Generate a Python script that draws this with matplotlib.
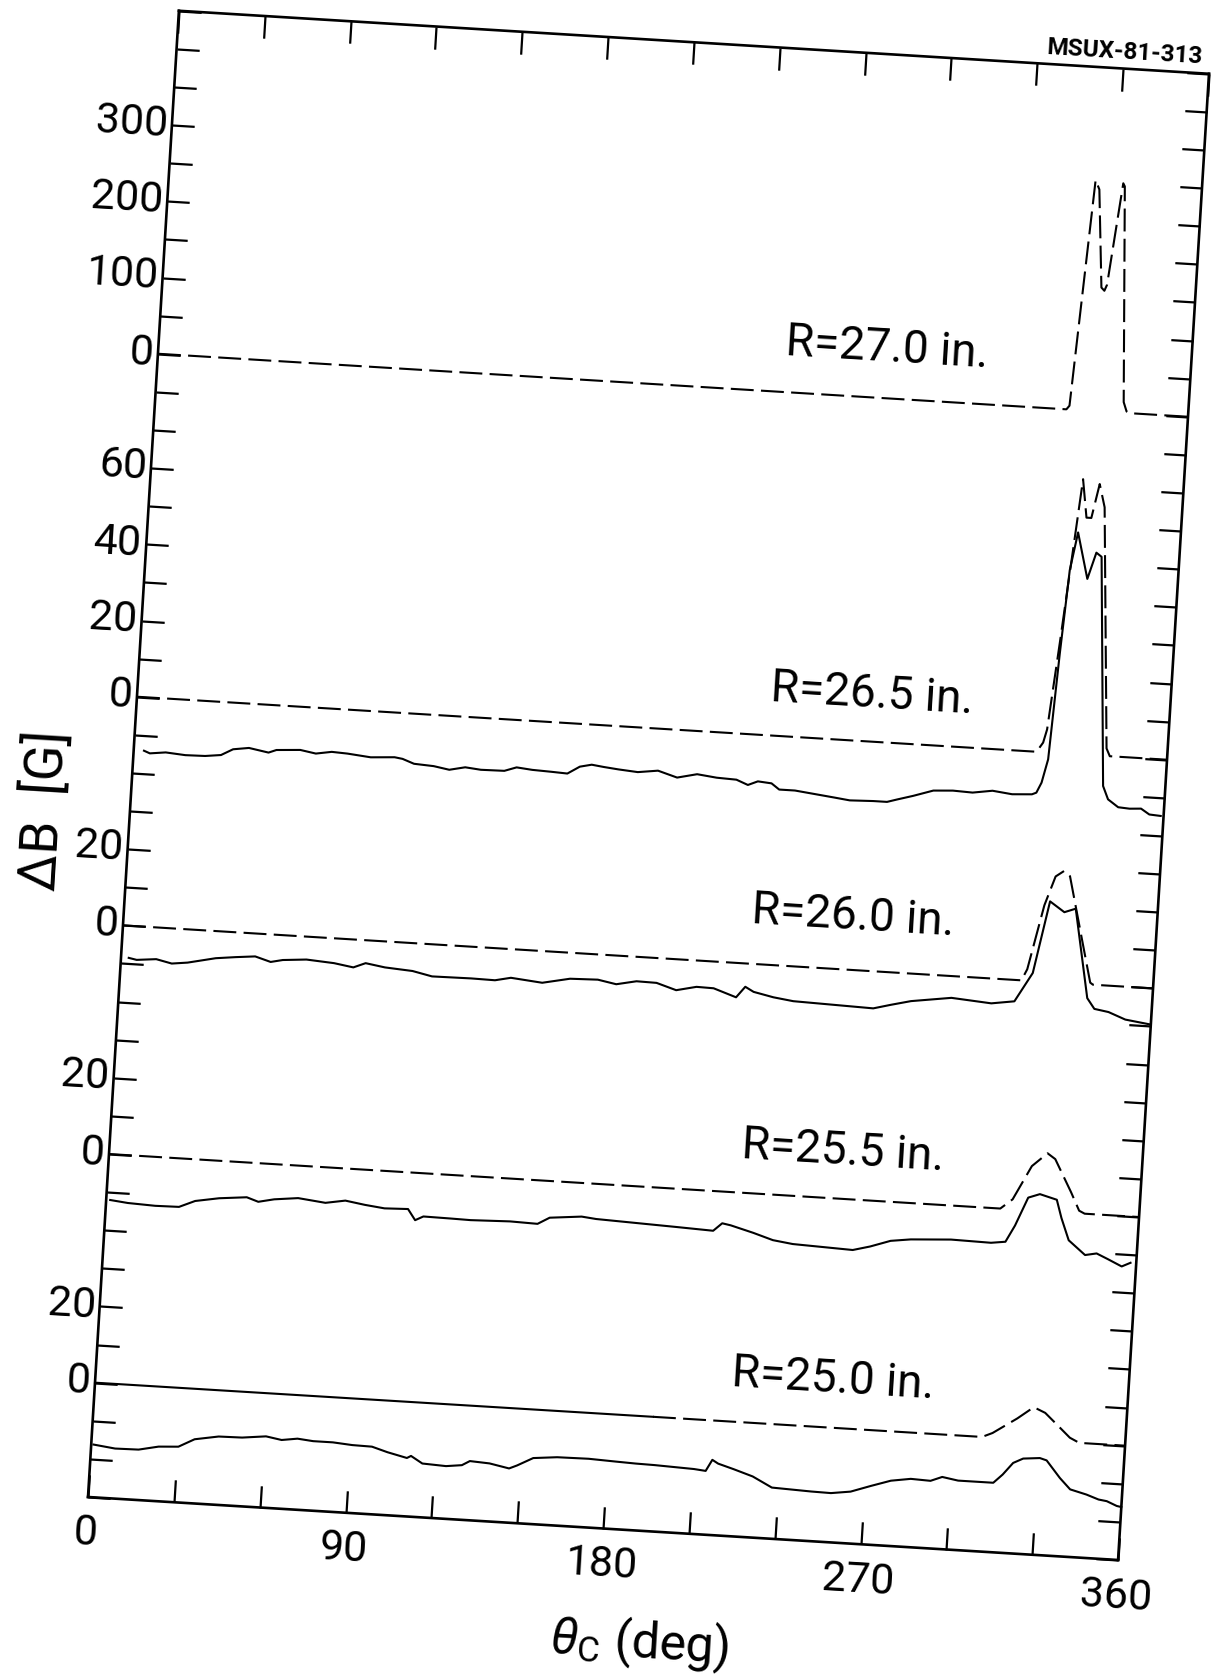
import matplotlib
matplotlib.use("Agg")
import matplotlib.pyplot as plt
import numpy as np
from matplotlib.transforms import Affine2D
import mpl_toolkits.axisartist.floating_axes as floating_axes
from mpl_toolkits.axisartist.grid_finder import FixedLocator, DictFormatter

plt.rcParams['font.family'] = ['Roboto', 'DejaVu Sans']
plt.rcParams['mathtext.fontset'] = 'custom'
plt.rcParams['mathtext.rm'] = 'Roboto'
plt.rcParams['mathtext.it'] = 'Roboto:italic'

# ---- data: theta_c in degrees, delta B in gauss ----
# R = 27.0 in. (calculated only)
theta_270_calc = [0, 317.5, 318.5, 322.8, 324.3, 327.1, 328.2, 329.0, 332.5, 333.1, 337.3, 338.5, 339.5, 360]
dB_270_calc = [0, 0, 5, 302, 290, 162, 158, 166, 300, 296, 14, 2, 0, 0]

# R = 26.5 in.
theta_265_calc = [0, 314.4, 316.5, 317.6, 320.2, 323.2, 324.8, 326.8, 328.5, 330.7, 332.9, 338.7, 340.0, 360]
dB_265_calc = [0, 0, 2.5, 6, 29, 57, 72, 62, 62, 71, 65, 2, 0, 0]
theta_265_meas = [3.6, 5.7, 11.2, 18.1, 25, 30.5, 34.6, 40.1, 47, 49.7, 58, 63.5, 69, 74.5, 82.7,
                  91, 93.8, 97.9, 104.8, 110.3, 115.8, 121.3, 129.5, 133.7, 139.2, 146, 151.5,
                  155.7, 159.8, 164, 169.2, 176, 183, 189.8, 196.7, 203.6, 210.5, 214.6, 218,
                  222.8, 225.6, 231.1, 238, 244.9, 250.4, 258.6, 263.4, 266.9, 272.4, 279.3,
                  286.1, 293, 299.9, 306.8, 313.7, 315.2, 316.8, 318.6, 320.4, 322.1, 324.2,
                  328.4, 331.0, 332.9, 338.3, 340.3, 344, 348, 352, 355, 359]
dB_265_meas = [-14.0, -14.6, -14.1, -14.5, -14.4, -13.9, -12.2, -11.6, -12.5, -11.7, -11.3, -12.0,
               -11.3, -11.5, -12.1, -11.7, -12.0, -13.1, -13.4, -14.1, -13.2, -13.6, -13.5, -12.4,
               -12.8, -13.0, -13.2, -11.2, -10.5, -10.9, -11.3, -11.7, -11.0, -12.5, -11.3, -11.9,
               -12.1, -13.3, -12.2, -12.5, -14.0, -14.0, -14.6, -15.2, -15.7, -15.5, -15.5, -14.7,
               -13.5, -11.8, -11.5, -11.7, -10.9, -11.5, -11.2, -10.7, -8.0, -1.8, 26, 48, 58,
               46, 53, 52, -7.9, -11.3, -13.2, -13.4, -13.2, -14.6, -14.8]

# R = 26.0 in.
theta_260_calc = [0, 314, 315.8, 320.4, 323.7, 326.6, 328.7, 334.0, 338, 339, 360]
dB_260_calc = [0, 0, 3, 20, 27.7, 29.3, 28, 12.3, 0.5, 0, 0]
theta_260_meas = [2.7, 5.5, 12.3, 17.8, 23.3, 33, 39.9, 46.7, 52.2, 56.4, 64.6, 74.3, 81.1, 85.3,
                  92.1, 101.8, 108.7, 122.4, 130.7, 136.2, 147.2, 156.8, 166.5, 173, 180, 187,
                  194, 201, 207, 215, 218, 221, 228, 235, 249, 263, 269, 276, 290, 304, 312,
                  317.8, 322.3, 327.5, 331.4, 337.3, 340, 345, 351, 357, 360]
dB_260_meas = [-8.4, -8.8, -8.3, -9.2, -8.7, -7.1, -6.5, -6.0, -7.2, -6.5, -6.0, -6.5, -7.3, -6.0,
               -6.8, -7.3, -8.4, -8.3, -8.4, -7.5, -8.3, -6.8, -6.6, -7.5, -6.4, -6.5, -8.1, -6.9,
               -7.0, -9.0, -6.1, -7.3, -8.4, -9.1, -9.4, -9.7, -8.5, -7.2, -5.7, -6.5, -5.6, 2.1,
               21.1, 18.5, 19.6, -3.6, -6.3, -6.9, -8.6, -9.2, -9.5]

# R = 25.5 in.
theta_255_calc = [0, 311.5, 315.6, 321.6, 326.8, 329.6, 335.8, 339, 341, 360]
dB_255_calc = [0, 0, 2.6, 11.6, 15.2, 13.8, 5.4, 0.7, 0, 0]
theta_255_meas = [1.4, 7.6, 17.2, 25.5, 31, 39.3, 48.9, 53, 58.5, 66.8, 76.4, 83.3, 90.2, 97.1,
                  105.3, 108, 110.8, 120.4, 127.3, 141.1, 150.7, 154.8, 165.9, 171, 185, 199,
                  212, 215, 218, 226, 233, 240, 247, 254, 261, 267, 274, 281, 295, 309, 314,
                  317, 321, 325, 331, 333, 336, 342, 346, 350, 355, 358]
dB_255_meas = [-12.0, -12.5, -12.8, -12.7, -10.9, -9.8, -9.1, -10.1, -9.2, -8.5, -9.3, -8.4, -9.2,
               -9.8, -9.6, -12.4, -11.3, -11.4, -11.5, -11.2, -11.4, -9.6, -8.8, -9.2, -9.6,
               -10.0, -10.4, -8.3, -8.7, -10.3, -11.9, -12.6, -12.8, -13.0, -13.2, -12.0, -10.2,
               -9.5, -8.9, -9.1, -8.6, -4.2, 3.3, 4.4, 3.2, -1.5, -7.2, -10.8, -10.2, -11.5,
               -13.2, -12.1]

# R = 25.0 in.
theta_250_calc = [0, 195, 310, 313.6, 321.9, 327.4, 331.5, 335.7, 340.6, 344, 360]
dB_250_calc = [0, 0, 0, 1.2, 5.4, 8.6, 7.3, 4.5, 1.2, 0, 0]
theta_250_meas = [0.8, 8.4, 16.6, 23.5, 30.4, 35.9, 44.2, 52.4, 60.7, 66.2, 71.7, 77.2, 84.1, 90.9,
                  97.8, 103.3, 110.2, 111.6, 115.7, 124, 129.5, 132.2, 139.1, 146, 148.7, 154.2,
                  162.5, 173.5, 183, 190, 196.6, 203.5, 210.4, 214.5, 216.6, 218.7, 224.2, 231,
                  237.9, 244.8, 251.7, 258.6, 265.4, 272.3, 279.2, 286.1, 293, 297, 302.6, 310.2,
                  314.9, 318, 321.4, 324.8, 330.6, 333.0, 338.0, 341.8, 347.6, 351.9, 354.8,
                  358.4, 360]
dB_250_meas = [-16.2, -16.9, -16.8, -15.7, -15.4, -13.2, -12.1, -12.0, -11.3, -12.0, -11.4, -11.8,
               -11.8, -12.2, -12.3, -13.5, -14.7, -14.1, -15.9, -16.2, -15.7, -14.5, -14.8, -15.8,
               -14.9, -12.7, -12.1, -12.0, -12.3, -12.5, -12.6, -12.8, -13.0, -13.3, -10.3, -11.2,
               -12.4, -14.0, -16.6, -16.8, -17.0, -17.1, -16.4, -14.6, -12.9, -12.1, -12.3, -11.1,
               -11.8, -11.8, -11.8, -9.5, -6.3, -5.0, -4.6, -5.1, -9.5, -12.3, -13.4, -14.5, -14.8,
               -15.9, -16.1]

radii = ["27.0", "26.5", "26.0", "25.5", "25.0"]
# each trace sits on its own zero on the common tick grid
zero_tick = {"27.0": 30, "26.5": 21, "26.0": 15, "25.5": 9, "25.0": 3}
gauss_per_tick = {"27.0": 50, "26.5": 10, "26.0": 10, "25.5": 10, "25.0": 10}
axis_values = {"27.0": [0, 100, 200, 300], "26.5": [0, 20, 40, 60], "26.0": [0, 20],
               "25.5": [0, 20], "25.0": [0, 20]}
x_labels = [0, 90, 180, 270, 360]

n_ticks = 39

def stacked(r, values):
    return zero_tick[r] + np.asarray(values, dtype=float) / gauss_per_tick[r]

y_label_map = {}
for r in radii:
    for v in axis_values[r]:
        y_label_map[zero_tick[r] + v // gauss_per_tick[r]] = str(v)
x_label_map = {v: str(v) for v in x_labels}

# ---- figure: the sheet is scanned slightly rotated ----
W, H, DPI = 1220, 1679, 100
fig = plt.figure(figsize=(W / DPI, H / DPI), dpi=DPI, facecolor='white')
frame_w, frame_h = 1032.0, 1489.0
tilt = -3.5
tr = Affine2D().scale(frame_w / 360.0, frame_h / n_ticks).rotate_deg(tilt)
corners = tr.transform([[0, 0], [360, 0], [360, n_ticks], [0, n_ticks]])
xmin, ymin = corners.min(axis=0)
xmax, ymax = corners.max(axis=0)
cx, cy = (xmin + xmax) / 2, (ymin + ymax) / 2
bw, bh = (xmax - xmin) * 1.02, (ymax - ymin) * 1.02
ox, oy = 88.0, 182.0  # lower left corner of the frame in pixels
rect = [(ox + cx - bw / 2) / W, (oy + cy - bh / 2) / H, bw / W, bh / H]

grid_helper = floating_axes.GridHelperCurveLinear(
    tr, extremes=(0, 360, 0, n_ticks),
    grid_locator1=FixedLocator(list(range(0, 361, 30))),
    grid_locator2=FixedLocator(list(range(0, n_ticks + 1))),
    tick_formatter1=DictFormatter(x_label_map),
    tick_formatter2=DictFormatter(y_label_map))
ax = fig.add_axes(rect, axes_class=floating_axes.FloatingAxes, grid_helper=grid_helper)
aux = ax.get_aux_axes(tr)

for side in ["left", "right", "top", "bottom"]:
    a = ax.axis[side]
    a.line.set_linewidth(1.9)
    a.major_ticks.set_ticksize(16)
    a.major_ticks.set_tick_out(False)
    a.major_ticks.set_markeredgewidth(1.6)
    a.major_ticks.set_markeredgecolor('black')
    a.major_ticklabels.set_fontsize(31)
ax.axis["top"].major_ticklabels.set_visible(False)
ax.axis["right"].major_ticklabels.set_visible(False)
ax.axis["left"].major_ticklabels.set_pad(3)
ax.axis["bottom"].major_ticklabels.set_pad(13)

lw = 1.5
dash = (11, 3.5)

# calculated curves (dashed)
aux.plot(theta_270_calc, stacked("27.0", dB_270_calc), color='black', lw=lw, dashes=dash)
aux.plot(theta_265_calc, stacked("26.5", dB_265_calc), color='black', lw=lw, dashes=dash)
aux.plot(theta_260_calc, stacked("26.0", dB_260_calc), color='black', lw=lw, dashes=dash)
aux.plot(theta_255_calc, stacked("25.5", dB_255_calc), color='black', lw=lw, dashes=dash)
t250 = np.asarray(theta_250_calc)
b250 = stacked("25.0", dB_250_calc)
aux.plot(t250[t250 <= 195], b250[t250 <= 195], color='black', lw=lw)
aux.plot(t250[t250 >= 195], b250[t250 >= 195], color='black', lw=lw, dashes=dash)

# measured curves (solid)
aux.plot(theta_265_meas, stacked("26.5", dB_265_meas), color='black', lw=lw)
aux.plot(theta_260_meas, stacked("26.0", dB_260_meas), color='black', lw=lw)
aux.plot(theta_255_meas, stacked("25.5", dB_255_meas), color='black', lw=lw)
aux.plot(theta_250_meas, stacked("25.0", dB_250_meas), color='black', lw=lw)

label_pos = {"27.0": (253.7, 1.3), "26.5": (255.9, 1.25), "26.0": (254.0, 1.4),
             "25.5": (255.5, 1.25), "25.0": (256.9, 1.28)}
for r in radii:
    lx, dy = label_pos[r]
    aux.text(lx, zero_tick[r] + dy, "R=" + r + " in.", fontsize=33,
             rotation=tilt, rotation_mode='anchor', ha='center', va='center')

aux.text(-29.6, 17.87, "ΔB  [G]", fontsize=38, rotation=90 + tilt,
         rotation_mode='anchor', ha='center', va='center')
aux.text(195.0, -2.96, r"$\theta_{\mathrm{C}}$ (deg)", fontsize=36,
         rotation=tilt, rotation_mode='anchor', ha='center', va='center')
aux.text(330.3, 39.43, "MSUX-81-313", fontsize=17.5, fontweight='bold', rotation=tilt,
         rotation_mode='anchor', ha='center', va='center')

fig.savefig("out.png", dpi=DPI, facecolor='white')
